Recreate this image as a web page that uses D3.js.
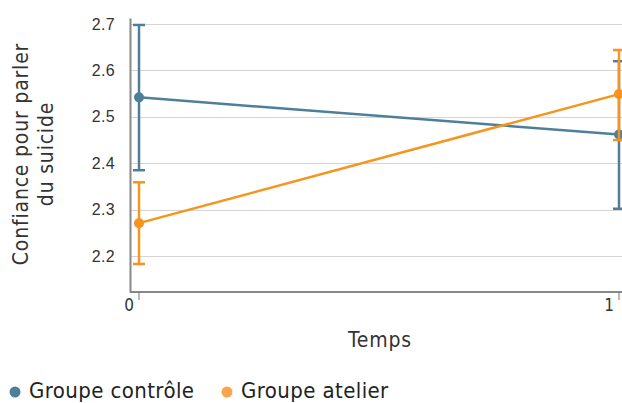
<!DOCTYPE html>
<html lang="fr">
<head>
    <meta charset="utf-8">
    <title>Confiance pour parler du suicide</title>
    <style>
        body { margin: 0; background: #fff; }
        svg { display: block; font-family: "DejaVu Sans Condensed", "DejaVu Sans", sans-serif; }
        .tick text { fill: #333; }
    </style>
    <script src="https://d3js.org/d3.v7.min.js"></script>
</head>
<body>
<svg></svg>
<script>
    const width = 622;
    const height = 403;

    // data
    const times = [0, 1];
    const groups = ["Groupe contrôle", "Groupe atelier"];
    const colors = ["#4d8098", "#f7941d"];
    const legendColors = ["#4d8098", "#f9a54a"];
    const controleMean = [2.542, 2.462];
    const controleLow = [2.385, 2.302];
    const controleHigh = [2.698, 2.620];
    const atelierMean = [2.271, 2.549];
    const atelierLow = [2.183, 2.450];
    const atelierHigh = [2.359, 2.644];
    const yTicks = [2.2, 2.3, 2.4, 2.5, 2.6, 2.7];

    const series = [
        { name: groups[0], mean: controleMean, low: controleLow, high: controleHigh },
        { name: groups[1], mean: atelierMean, low: atelierLow, high: atelierHigh }
    ];

    const svg = d3.select('svg').attr('width', width).attr('height', height);

    const plotLeft = 130, plotTop = 18, plotBottom = 292;

    const x = d3.scaleLinear().domain([0, 1]).range([139, 619]);
    const y = d3.scaleLinear().domain([2.1226, 2.713]).range([plotBottom, plotTop]);

    // gridlines
    svg.append('g')
        .selectAll('line')
        .data(yTicks)
        .enter().append('line')
        .attr('x1', plotLeft)
        .attr('x2', width)
        .attr('y1', d => Math.round(y(d)) + 0.5)
        .attr('y2', d => Math.round(y(d)) + 0.5)
        .attr('stroke', '#d4d4d4')
        .attr('stroke-width', 1);

    // y axis
    const yAxis = svg.append('g')
        .attr('transform', `translate(${plotLeft},0)`)
        .call(d3.axisLeft(y).tickValues(yTicks).tickSize(0).tickPadding(15).tickFormat(d3.format('.1f')));
    yAxis.select('.domain').attr('stroke', '#888').attr('stroke-width', 2);
    yAxis.selectAll('text').style('font-size', '16px').style('letter-spacing', '0.3px');

    // x axis
    const xAxis = svg.append('g')
        .attr('transform', `translate(0,${plotBottom})`);
    xAxis.append('line')
        .attr('x1', plotLeft).attr('x2', width)
        .attr('stroke', '#888').attr('stroke-width', 2);
    xAxis.selectAll('.xt')
        .data(times)
        .enter().append('line')
        .attr('class', 'xt')
        .attr('x1', d => x(d)).attr('x2', d => x(d))
        .attr('y1', 0).attr('y2', 8)
        .attr('stroke', '#777').attr('stroke-width', 1);
    xAxis.selectAll('.xl')
        .data(times)
        .enter().append('text')
        .attr('class', 'xl')
        .attr('x', d => x(d) - 5)
        .attr('y', 19)
        .attr('text-anchor', 'end')
        .style('font-size', '17px')
        .attr('fill', '#333')
        .text(d => d);

    // axis titles
    svg.append('text')
        .attr('x', 380).attr('y', 347)
        .attr('text-anchor', 'middle')
        .style('font-size', '21px')
        .style('letter-spacing', '0.8px')
        .attr('fill', '#333')
        .text('Temps');

    const yTitle = svg.append('text')
        .attr('transform', 'translate(0,154) rotate(-90)')
        .attr('text-anchor', 'middle')
        .style('font-size', '21px')
        .style('letter-spacing', '0.8px')
        .attr('fill', '#333');
    yTitle.append('tspan').attr('x', 0).attr('y', 28).text('Confiance pour parler');
    yTitle.append('tspan').attr('x', 0).attr('y', 53).text('du suicide');

    // series
    const line = d3.line()
        .x((d, i) => x(times[i]))
        .y(d => y(d));

    series.forEach((s, k) => {
        const g = svg.append('g');
        g.append('path')
            .datum(s.mean)
            .attr('d', line)
            .attr('fill', 'none')
            .attr('stroke', colors[k])
            .attr('stroke-width', 2.5);

        times.forEach((t, i) => {
            g.append('line')
                .attr('x1', x(t)).attr('x2', x(t))
                .attr('y1', y(s.low[i])).attr('y2', y(s.high[i]))
                .attr('stroke', colors[k]).attr('stroke-width', 2.5);
            [s.low[i], s.high[i]].forEach(v => {
                g.append('line')
                    .attr('x1', x(t) - 6).attr('x2', x(t) + 6)
                    .attr('y1', y(v)).attr('y2', y(v))
                    .attr('stroke', colors[k]).attr('stroke-width', 2.5);
            });
            g.append('circle')
                .attr('cx', x(t)).attr('cy', y(s.mean[i]))
                .attr('r', 5)
                .attr('fill', colors[k]);
        });
    });

    // legend
    const legend = svg.append('g');
    const legendX = [15, 227];
    groups.forEach((name, k) => {
        legend.append('circle')
            .attr('cx', legendX[k]).attr('cy', 392)
            .attr('r', 5.5)
            .attr('fill', legendColors[k]);
        legend.append('text')
            .attr('x', legendX[k] + 14).attr('y', 398)
            .style('font-size', '22px')
            .style('letter-spacing', '0.4px')
            .attr('fill', '#222')
            .text(name);
    });
</script>
</body>
</html>
